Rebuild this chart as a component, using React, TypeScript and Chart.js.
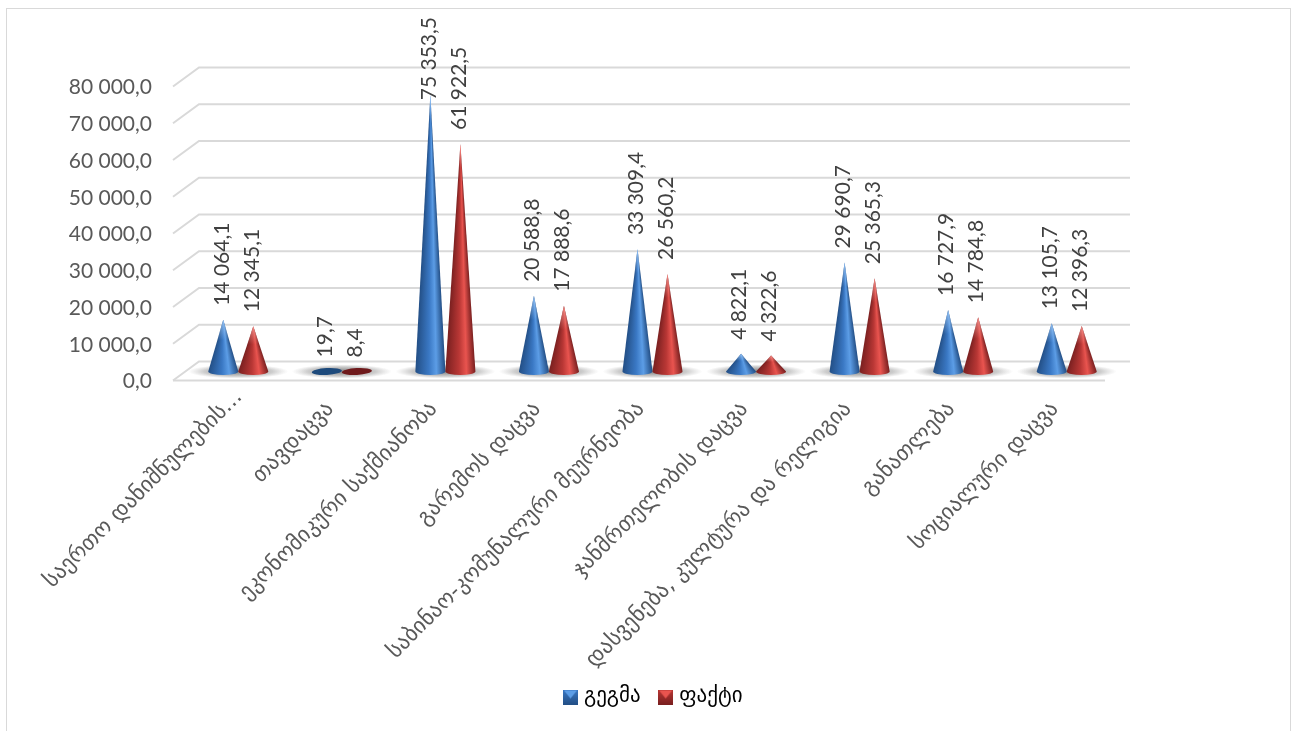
import React, { useEffect, useRef } from "react";
import { Chart, registerables } from "chart.js";

Chart.register(...registerables);

const categories = [
  "საერთო დანიშნულების...",
  "თავდაცვა",
  "ეკონომიკური საქმიანობა",
  "გარემოს დაცვა",
  "საბინაო-კომუნალური მეურნეობა",
  "ჯანმრთელობის დაცვა",
  "დასვენება, კულტურა და რელიგია",
  "განათლება",
  "სოციალური დაცვა",
];
const planValues = [14064.1, 19.7, 75353.5, 20588.8, 33309.4, 4822.1, 29690.7, 16727.9, 13105.7];
const factValues = [12345.1, 8.4, 61922.5, 17888.6, 26560.2, 4322.6, 25365.3, 14784.8, 12396.3];
const seriesNames = ["გეგმა", "ფაქტი"];

const palettes = [
  { edge: "#234f86", mid: "#3a78c4", light: "#5c9de6", flat: "#1d4a7c", tip: "#8fbdf0", top: "#3f7fd0" },
  { edge: "#7a2020", mid: "#b93735", light: "#e9544f", flat: "#6f1a1c", tip: "#f08a85", top: "#e2504c" },
];

const LATIN = "Lato, 'DejaVu Sans', sans-serif";
const GEO = "'DejaVu Sans', sans-serif";
const DEPTH_X = 26;
const DEPTH_Y = 19;
const CONE_DX = 13.5;
const CONE_DY = -9;
const BACK_RIGHT = 1130;

const fmt = (v: number) => {
  const [a, b] = v.toFixed(1).split(".");
  return a.replace(/\B(?=(\d{3})+$)/g, " ") + "," + b;
};

function makeMarker(p: (typeof palettes)[number]) {
  const c = document.createElement("canvas");
  c.width = 15;
  c.height = 15;
  const g = c.getContext("2d")!;
  const lg = g.createLinearGradient(0, 0, 0, 15);
  lg.addColorStop(0, p.mid);
  lg.addColorStop(1, p.edge);
  g.fillStyle = lg;
  g.fillRect(0, 0, 15, 15);
  g.fillStyle = p.light;
  g.beginPath();
  g.moveTo(1, 1);
  g.lineTo(14, 1);
  g.lineTo(7.5, 9);
  g.closePath();
  g.fill();
  return c;
}

const floorPlugin = {
  id: "floor",
  beforeDraw(chart: any) {
    // The truncated first label sits further along its own direction, as in the source chart.
    const items = chart.scales.x.getLabelItems();
    if (items[0] && !items[0].moved) {
      items[0].options.translation[0] += 12;
      items[0].options.translation[1] -= 12;
      items[0].moved = true;
    }
  },
  beforeDatasetsDraw(chart: any) {
    const { ctx, chartArea, scales } = chart;
    const y = scales.y;
    ctx.save();
    ctx.strokeStyle = "#d9d9d9";
    ctx.lineWidth = 2;
    y.ticks.forEach((t: any) => {
      const py = y.getPixelForValue(t.value);
      ctx.beginPath();
      ctx.moveTo(chartArea.left, py);
      ctx.lineTo(chartArea.left + DEPTH_X, py - DEPTH_Y);
      ctx.lineTo(BACK_RIGHT, py - DEPTH_Y);
      ctx.stroke();
    });
    const y0 = y.getPixelForValue(0);
    ctx.beginPath();
    ctx.moveTo(chartArea.left, y0);
    ctx.lineTo(chartArea.right, y0);
    ctx.stroke();

    const m0 = chart.getDatasetMeta(0).data;
    const m1 = chart.getDatasetMeta(1).data;
    m0.forEach((b: any, i: number) => {
      const cx = (b.x + m1[i].x) / 2 + CONE_DX;
      const cy = b.base + CONE_DY;
      ctx.save();
      ctx.translate(cx, cy);
      ctx.scale(1, 7 / 50);
      const rg = ctx.createRadialGradient(0, 0, 10, 0, 0, 50);
      rg.addColorStop(0, "rgba(80,80,80,0.6)");
      rg.addColorStop(0.6, "rgba(110,110,110,0.35)");
      rg.addColorStop(1, "rgba(140,140,140,0)");
      ctx.fillStyle = rg;
      ctx.beginPath();
      ctx.arc(0, 0, 50, 0, Math.PI * 2);
      ctx.fill();
      ctx.restore();
    });
    ctx.restore();
  },
};

const conePlugin = {
  id: "cones",
  afterDatasetsDraw(chart: any) {
    const { ctx } = chart;
    chart.data.datasets.forEach((_: any, d: number) => {
      const p = palettes[d];
      chart.getDatasetMeta(d).data.forEach((b: any) => {
        const cx = b.x + CONE_DX;
        const baseY = b.base + CONE_DY;
        const tipY = b.y + CONE_DY;
        const rx = b.width / 2;
        const ry = 3.4;
        const h = baseY - tipY;
        ctx.save();
        if (h < 3) {
          ctx.fillStyle = p.flat;
          ctx.beginPath();
          ctx.ellipse(cx, baseY, rx, ry, -0.05, 0, Math.PI * 2);
          ctx.fill();
          ctx.restore();
          return;
        }
        ctx.beginPath();
        ctx.moveTo(cx, tipY);
        ctx.lineTo(cx - rx, baseY);
        ctx.ellipse(cx, baseY, rx, ry, 0, Math.PI, 0, true);
        ctx.closePath();
        ctx.clip();
        const aR = Math.atan2(h, rx);
        const aL = Math.atan2(h, -rx);
        const span = (aL - aR) / (Math.PI * 2);
        const cg = ctx.createConicGradient(aR, cx, tipY);
        cg.addColorStop(0, p.edge);
        cg.addColorStop(span * 0.3, p.light);
        cg.addColorStop(span * 0.55, p.mid);
        cg.addColorStop(span, p.edge);
        cg.addColorStop(Math.min(span + 0.02, 1), p.edge);
        cg.addColorStop(1, p.edge);
        ctx.fillStyle = cg;
        ctx.fillRect(cx - rx - 2, tipY - 1, rx * 2 + 4, h + ry + 3);
        const tg = ctx.createLinearGradient(0, tipY, 0, tipY + Math.min(h, 60) * 0.4);
        tg.addColorStop(0, p.tip);
        tg.addColorStop(1, p.tip + "00");
        ctx.fillStyle = tg;
        ctx.fillRect(cx - rx - 2, tipY - 1, rx * 2 + 4, h);
        ctx.restore();
      });
    });

    ctx.save();
    ctx.font = "21px " + LATIN;
    ctx.fillStyle = "#404040";
    ctx.textBaseline = "middle";
    ctx.textAlign = "left";
    chart.data.datasets.forEach((ds: any, d: number) => {
      chart.getDatasetMeta(d).data.forEach((b: any, i: number) => {
        const text = fmt(ds.data[i]);
        const w = ctx.measureText(text).width;
        const tip = b.y + CONE_DY;
        const anchor = Math.max(tip - 14, 17 + w);
        ctx.save();
        ctx.translate(b.x + CONE_DX - 1.5, anchor);
        ctx.rotate(-Math.PI / 2);
        ctx.fillText(text, 0, 0);
        ctx.restore();
      });
    });
    ctx.restore();
  },
};

const legendPlacer = {
  id: "legendPlacer",
  afterLayout(chart: any) {
    const l = chart.legend;
    l.left = 12;
    l.right = 1298;
    const h = l.height;
    l.top = 691 - h / 2;
    l.bottom = l.top + h;
  },
};

export default function App() {
  const ref = useRef<HTMLCanvasElement | null>(null);

  useEffect(() => {
    const markers = palettes.map(makeMarker);
    const chart = new Chart(ref.current!, {
      type: "bar",
      data: {
        labels: categories,
        datasets: [
          { label: seriesNames[0], data: planValues, backgroundColor: "transparent", borderWidth: 0 },
          { label: seriesNames[1], data: factValues, backgroundColor: "transparent", borderWidth: 0 },
        ],
      },
      plugins: [floorPlugin, conePlugin, legendPlacer],
      options: {
        responsive: false,
        animation: false,
        layout: { padding: { top: 86.5, right: 193, left: 0, bottom: 0 } },
        datasets: { bar: { categoryPercentage: 0.58, barPercentage: 1 } },
        scales: {
          x: {
            grid: { display: false },
            border: { display: false },
            ticks: {
              autoSkip: false,
              minRotation: 45,
              maxRotation: 45,
              labelOffset: 2,
              padding: 8,
              color: "#595959",
              font: { family: GEO, size: 22 },
            },
            afterFit(s: any) {
              s.height = 350.5 - (s.chart.legend?.height ?? 0);
              s.paddingLeft = 0;
              s.paddingRight = 0;
            },
          },
          y: {
            min: 0,
            max: 80000,
            grid: { display: false },
            border: { display: false },
            ticks: {
              stepSize: 10000,
              padding: 13,
              labelOffset: 1,
              color: "#595959",
              font: { family: LATIN, size: 21 },
              callback: (v: any) => fmt(Number(v)),
            },
            afterFit(s: any) {
              s.width = 173;
              s.paddingTop = 0;
              s.paddingBottom = 0;
            },
          },
        },
        plugins: {
          tooltip: { enabled: false },
          title: { display: false },
          legend: {
            position: "bottom",
            labels: {
              usePointStyle: true,
              boxWidth: 6,
              color: "#595959",
              padding: 22,
              font: { family: GEO, size: 21 },
              generateLabels: () =>
                seriesNames.map((text, i) => ({
                  text,
                  datasetIndex: i,
                  pointStyle: markers[i] as any,
                  fillStyle: palettes[i].mid,
                  strokeStyle: "transparent",
                  lineWidth: 0,
                  hidden: false,
                })),
            },
          },
        },
      } as any,
    });
    return () => chart.destroy();
  }, []);

  return (
    <div style={{ position: "fixed", left: 0, top: 0, width: 1298, height: 731, overflow: "hidden", background: "#fff" }}>
      <div
        style={{
          position: "absolute",
          left: 6,
          top: 8,
          width: 1285,
          height: 760,
          border: "1.5px solid #d9d9d9",
          boxSizing: "border-box",
        }}
      />
      <canvas ref={ref} width={1298} height={731} style={{ position: "absolute", left: 0, top: 0, width: 1298, height: 731 }} />
    </div>
  );
}
